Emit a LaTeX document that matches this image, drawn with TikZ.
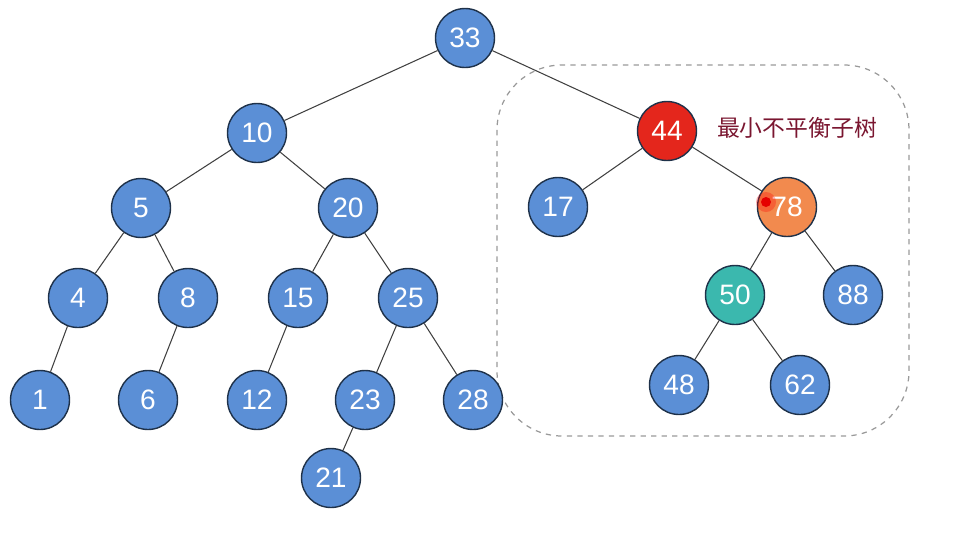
\documentclass[tikz,border=0pt]{standalone}
\usepackage{fontspec}
\setmainfont{Liberation Sans}
\newfontfamily\cjk{Noto Sans CJK SC}
\usepackage{xcolor}
\usepackage{tikz}
\definecolor{nBlue}{HTML}{5B8FD6}
\definecolor{nEdge}{HTML}{1E3149}
\definecolor{nRed}{HTML}{E4261C}
\definecolor{nOrange}{HTML}{F28A4E}
\definecolor{nTeal}{HTML}{3BB8AE}
\definecolor{nLabel}{HTML}{7A1630}

\begin{document}
\begin{tikzpicture}[x=0.02cm,y=-0.02cm,
  key/.style={circle,draw=nEdge,fill=nBlue,line width=0.8pt,minimum size=1.18cm,inner sep=0pt,
    text=white,font=\fontsize{16}{18}\selectfont},
  hot/.style={key,fill=nRed},
  warm/.style={key,fill=nOrange},
  pivot/.style={key,fill=nTeal},
  link/.style={draw=black!75,line width=0.6pt}]
  \useasboundingbox (0,0) rectangle (957,532);
  % unbalanced subtree frame
  \draw[gray!80,dashed,line width=0.7pt,rounded corners=1.3cm] (497,65) rectangle (909,436);
  \node[font=\cjk\fontsize{13}{15}\selectfont,text=nLabel] (lbl) at (797,128) {最小不平衡子树};

  \node[key] (n33) at (465,38) {33};
  \node[key] (n10) at (257,133) {10};
  \node[hot] (n44) at (667,131) {44};
  \node[key] (n5) at (141,208) {5};
  \node[key] (n20) at (348,208) {20};
  \node[key] (n17) at (558,207) {17};
  \node[warm] (n78) at (787,207) {78};
  \node[key] (n4) at (78,298) {4};
  \node[key] (n8) at (188,298) {8};
  \node[key] (n15) at (298,298) {15};
  \node[key] (n25) at (408,298) {25};
  \node[pivot] (n50) at (735,295) {50};
  \node[key] (n88) at (853,295) {88};
  \node[key] (n1) at (40,400) {1};
  \node[key] (n6) at (148,400) {6};
  \node[key] (n12) at (257,400) {12};
  \node[key] (n23) at (365,400) {23};
  \node[key] (n28) at (473,400) {28};
  \node[key] (n48) at (679,385) {48};
  \node[key] (n62) at (800,385) {62};
  \node[key] (n21) at (331,478) {21};

  \draw[link] (n33) -- (n10);
  \draw[link] (n33) -- (n44);
  \draw[link] (n10) -- (n5);
  \draw[link] (n10) -- (n20);
  \draw[link] (n44) -- (n17);
  \draw[link] (n44) -- (n78);
  \draw[link] (n5) -- (n4);
  \draw[link] (n5) -- (n8);
  \draw[link] (n20) -- (n15);
  \draw[link] (n20) -- (n25);
  \draw[link] (n78) -- (n50);
  \draw[link] (n78) -- (n88);
  \draw[link] (n4) -- (n1);
  \draw[link] (n8) -- (n6);
  \draw[link] (n15) -- (n12);
  \draw[link] (n25) -- (n23);
  \draw[link] (n25) -- (n28);
  \draw[link] (n50) -- (n48);
  \draw[link] (n50) -- (n62);
  \draw[link] (n23) -- (n21);

  % pointer spot
  \fill[red,opacity=0.3] (766,202) circle (10);
  \fill[red!90!black] (766,202) circle (5);
\end{tikzpicture}
\end{document}
